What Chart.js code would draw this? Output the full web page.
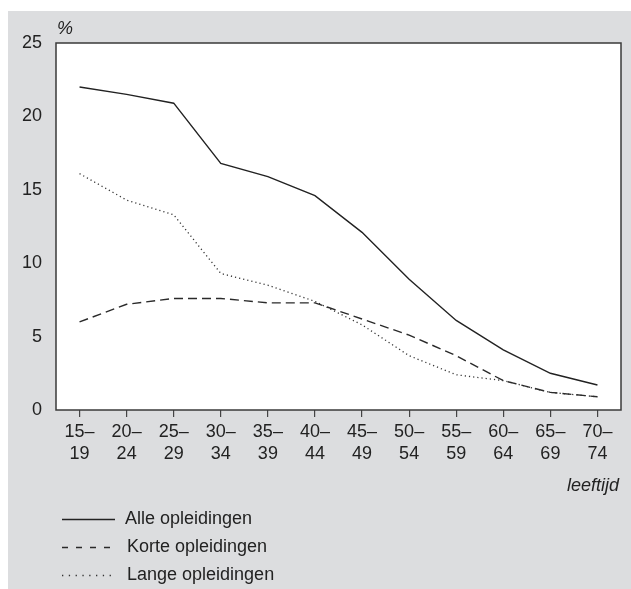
<!DOCTYPE html>
<html>
<head>
<meta charset="utf-8">
<script src="https://cdn.jsdelivr.net/npm/chart.js@4"></script>
<style>
  html, body { margin: 0; padding: 0; background: #fff; }
  #wrap { position: absolute; left: 0; top: 0; width: 631px; height: 589px; }
</style>
</head>
<body>
<div id="wrap"><canvas id="chart" width="631" height="589"></canvas></div>
<script>
// leeftijdsklassen (x-as)
const leeftijden = [
  ['15–', '19'], ['20–', '24'], ['25–', '29'], ['30–', '34'],
  ['35–', '39'], ['40–', '44'], ['45–', '49'], ['50–', '54'],
  ['55–', '59'], ['60–', '64'], ['65–', '69'], ['70–', '74'],
];

// percentages per opleidingsgroep
const alleOpleidingen = [22.0, 21.5, 20.9, 16.8, 15.9, 14.6, 12.1, 8.9, 6.1, 4.1, 2.5, 1.7];
const korteOpleidingen = [6.0, 7.2, 7.6, 7.6, 7.3, 7.3, 6.2, 5.1, 3.7, 2.0, 1.2, 0.9];
const langeOpleidingen = [16.1, 14.3, 13.3, 9.3, 8.5, 7.4, 5.8, 3.7, 2.4, 2.0, 1.2, 0.9];

const reeksNamen = ['Alle opleidingen', 'Korte opleidingen', 'Lange opleidingen'];
const yMin = 0;
const yMax = 25;
const yStap = 5;

const FONT = '"Liberation Sans", Arial, Helvetica, sans-serif';
const TEXT = '#222';
const legendDash = [[], [6, 8], [1.3, 5.5]];

const decor = {
  id: 'decor',
  beforeDraw(chart) {
    const { ctx, chartArea: a } = chart;
    ctx.save();
    ctx.fillStyle = '#dcdddf';
    ctx.fillRect(8, 11, chart.width - 8, chart.height - 11);
    ctx.fillStyle = '#fff';
    ctx.fillRect(a.left, a.top, a.right - a.left, a.bottom - a.top);
    ctx.restore();
  },
  afterDraw(chart) {
    const { ctx, chartArea: a } = chart;
    ctx.save();
    // plot frame
    ctx.strokeStyle = '#3a3a3a';
    ctx.lineWidth = 1.5;
    ctx.strokeRect(a.left, a.top, a.right - a.left, a.bottom - a.top);

    ctx.fillStyle = TEXT;
    ctx.textBaseline = 'middle';
    ctx.font = 'italic 18px ' + FONT;
    ctx.textAlign = 'left';
    ctx.fillText('%', a.left + 1, 29);
    ctx.textAlign = 'right';
    ctx.fillText('leeftijd', a.right - 2, 486);

    // legend
    ctx.textAlign = 'left';
    ctx.font = '18px ' + FONT;
    chart.data.datasets.forEach((ds, i) => {
      const y = 519 + i * 28;
      ctx.beginPath();
      ctx.setLineDash(legendDash[i]);
      ctx.strokeStyle = ds.borderColor;
      ctx.lineWidth = ds.borderWidth;
      ctx.moveTo(62, y + 0.5);
      ctx.lineTo(115, y + 0.5);
      ctx.stroke();
      ctx.setLineDash([]);
      ctx.fillStyle = TEXT;
      ctx.fillText(ds.label, i === 0 ? 125 : 127, y);
    });
    ctx.restore();
  },
};

const ctx = document.getElementById('chart').getContext('2d');
new Chart(ctx, {
  type: 'line',
  data: {
    labels: leeftijden,
    datasets: [
      {
        label: reeksNamen[0],
        data: alleOpleidingen,
        borderColor: '#222',
        borderWidth: 1.4,
        pointRadius: 0,
        tension: 0,
      },
      {
        label: reeksNamen[1],
        data: korteOpleidingen,
        borderColor: '#2a2a2a',
        borderWidth: 1.4,
        borderDash: [9, 5],
        pointRadius: 0,
        tension: 0,
      },
      {
        label: reeksNamen[2],
        data: langeOpleidingen,
        borderColor: '#333',
        borderWidth: 1.3,
        borderDash: [1.2, 3],
        pointRadius: 0,
        tension: 0,
      },
    ],
  },
  options: {
    responsive: false,
    animation: false,
    devicePixelRatio: 1,
    layout: { padding: { top: 43, right: 10, left: 0, bottom: 0 } },
    plugins: {
      legend: { display: false },
      tooltip: { enabled: false },
    },
    scales: {
      x: {
        type: 'category',
        offset: true,
        afterFit(scale) { scale.height = 179; },
        grid: {
          display: true,
          drawOnChartArea: false,
          drawTicks: true,
          tickLength: 7,
          offset: false,
          color: '#444',
          lineWidth: 1.2,
        },
        border: { display: false },
        ticks: {
          color: TEXT,
          font: { family: FONT, size: 18, lineHeight: 1.22 },
          padding: 4,
          maxRotation: 0,
          autoSkip: false,
        },
      },
      y: {
        min: yMin,
        max: yMax,
        afterFit(scale) { scale.width = 56; },
        grid: { display: false, drawTicks: false },
        border: { display: false },
        ticks: {
          stepSize: yStap,
          color: TEXT,
          padding: 14,
          font: { family: FONT, size: 18 },
        },
      },
    },
  },
  plugins: [decor],
});
</script>
</body>
</html>
